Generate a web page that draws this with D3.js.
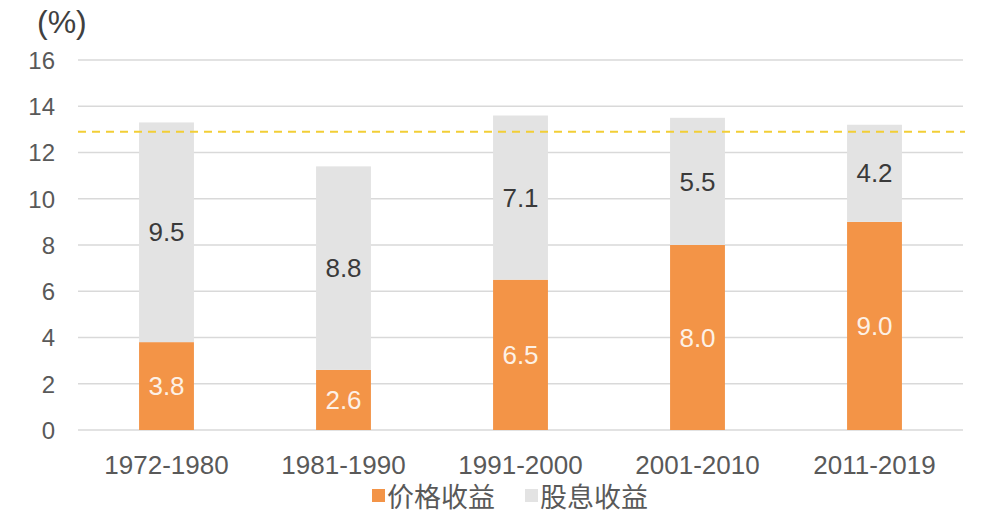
<!DOCTYPE html>
<html>
<head>
<meta charset="utf-8">
<script src="https://cdn.jsdelivr.net/npm/d3@7"></script>
<style>
  body { margin: 0; background: #fff; }
  svg { display: block; font-family: "Liberation Sans", Arial, "Noto Sans CJK SC", sans-serif; }
</style>
</head>
<body>
<svg id="chart"></svg>
<script>
const periodos = ['1972-1980', '1981-1990', '1991-2000', '2001-2010', '2011-2019'];
const precio = [3.8, 2.6, 6.5, 8.0, 9.0];
const dividendo = [9.5, 8.8, 7.1, 5.5, 4.2];
const ticksY = [0, 2, 4, 6, 8, 10, 12, 14, 16];
const promedio = 12.9;
const nombresSerie = ['价格收益', '股息收益'];

const w = 1001, h = 527;
const xIzq = 78, xDer = 963, yArriba = 60, yAbajo = 430;
const colores = ['#F39447', '#E3E3E3'];

const svg = d3.select('#chart').attr('width', w).attr('height', h);

const escalaX = d3.scaleBand()
  .domain(periodos)
  .range([xIzq, xDer])
  .paddingInner(0.69)
  .paddingOuter(0.345);
const escalaY = d3.scaleLinear().domain([0, 16]).range([yAbajo, yArriba]);

// gridlines
svg.append('g')
  .selectAll('line')
  .data(ticksY)
  .enter()
  .append('line')
  .attr('x1', xIzq).attr('x2', xDer)
  .attr('y1', d => escalaY(d)).attr('y2', d => escalaY(d))
  .style('stroke', '#D9D9D9')
  .style('stroke-width', 1.5);

// eje Y
const ejeY = d3.axisLeft(escalaY).tickValues(ticksY).tickSize(0).tickPadding(0);
const gY = svg.append('g')
  .attr('transform', 'translate(55, 0)')
  .call(ejeY);
gY.select('.domain').remove();
gY.selectAll('text')
  .style('font-size', '24px')
  .style('fill', '#595959')
  .attr('dy', '0.35em');

svg.append('text')
  .attr('x', 37).attr('y', 33)
  .style('font-size', '32px')
  .style('fill', '#404040')
  .text('(%)');

// barras apiladas
const filas = periodos.map((p, i) => ({ periodo: p, precio: precio[i], dividendo: dividendo[i] }));
const pila = d3.stack().keys(['precio', 'dividendo'])(filas);

const capas = svg.append('g')
  .selectAll('g')
  .data(pila)
  .enter()
  .append('g')
  .style('fill', (d, i) => colores[i]);

capas.selectAll('rect')
  .data(d => d)
  .enter()
  .append('rect')
  .attr('x', d => escalaX(d.data.periodo))
  .attr('width', escalaX.bandwidth())
  .attr('y', d => escalaY(d[1]))
  .attr('height', d => escalaY(d[0]) - escalaY(d[1]));

capas.selectAll('text')
  .data((d, i) => d.map(v => ({ v: v, serie: i })))
  .enter()
  .append('text')
  .attr('x', d => escalaX(d.v.data.periodo) + escalaX.bandwidth() / 2)
  .attr('y', d => escalaY((d.v[0] + d.v[1]) / 2))
  .attr('dy', '0.35em')
  .attr('text-anchor', 'middle')
  .style('font-size', '26px')
  .style('fill', d => d.serie === 0 ? '#FDF1E6' : '#3A3A3A')
  .text(d => (d.v[1] - d.v[0]).toFixed(1));

// linea promedio
svg.append('line')
  .attr('x1', xIzq).attr('x2', xDer + 2)
  .attr('y1', escalaY(promedio)).attr('y2', escalaY(promedio))
  .style('stroke', '#F2CE36')
  .style('stroke-width', 2)
  .style('stroke-dasharray', '8,6');

// eje X
const ejeX = d3.axisBottom(escalaX).tickSize(0).tickPadding(0);
const gX = svg.append('g')
  .attr('transform', 'translate(0, ' + yAbajo + ')')
  .call(ejeX);
gX.select('.domain').remove();
gX.selectAll('text')
  .attr('y', 44)
  .attr('dy', 0)
  .style('font-size', '26px')
  .style('fill', '#595959');

// leyenda
const leyenda = svg.append('g')
  .selectAll('g')
  .data(nombresSerie)
  .enter()
  .append('g')
  .attr('transform', (d, i) => 'translate(' + (372 + i * 153) + ', 489)');

leyenda.append('rect')
  .attr('width', 13).attr('height', 13)
  .style('fill', (d, i) => colores[i]);

leyenda.append('text')
  .attr('x', 15).attr('y', 18)
  .style('font-size', '27px')
  .style('font-family', '"Noto Sans CJK SC", sans-serif')
  .style('fill', '#595959')
  .text(d => d);
</script>
</body>
</html>
